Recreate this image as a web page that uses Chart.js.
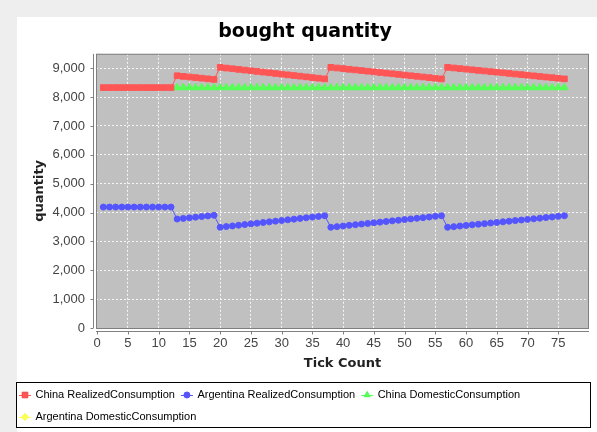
<!DOCTYPE html>
<html>
<head>
<meta charset="utf-8">
<script src="https://cdn.jsdelivr.net/npm/chart.js@4.4.1/dist/chart.umd.min.js"></script>
<style>
    html, body { margin: 0; padding: 0; background: #eeeeee; }
    #wrap { position: relative; width: 597px; height: 432px; }
</style>
</head>
<body>
<div id="wrap"><canvas id="chart" width="597" height="432"></canvas></div>
<script>
// Tick axis values
const tickCount = [
    1, 2, 3, 4, 5, 6, 7, 8, 9, 10, 11, 12, 13, 14, 15, 16, 17, 18, 19, 20,
    21, 22, 23, 24, 25, 26, 27, 28, 29, 30, 31, 32, 33, 34, 35, 36, 37, 38, 39, 40,
    41, 42, 43, 44, 45, 46, 47, 48, 49, 50, 51, 52, 53, 54, 55, 56, 57, 58, 59, 60,
    61, 62, 63, 64, 65, 66, 67, 68, 69, 70, 71, 72, 73, 74, 75, 76
];

const chinaRealized = [
    8330, 8330, 8330, 8330, 8330, 8330, 8330, 8330, 8330, 8330, 8330, 8330,
    8740, 8718, 8697, 8676, 8654, 8632, 8612,
    9030, 9006, 8983, 8959, 8936, 8912, 8889, 8865, 8842, 8818, 8795, 8771, 8748, 8724, 8701, 8677, 8654, 8630,
    9030, 9008, 8986, 8963, 8941, 8919, 8897, 8874, 8852, 8830, 8808, 8786, 8763, 8741, 8719, 8697, 8674, 8652, 8630,
    9030, 9009, 8988, 8967, 8946, 8925, 8904, 8883, 8862, 8841, 8820, 8799, 8778, 8757, 8736, 8715, 8694, 8673, 8652, 8631
];

const argentinaRealized = [
    4190, 4190, 4190, 4190, 4190, 4190, 4190, 4190, 4190, 4190, 4190, 4190,
    3775, 3797, 3818, 3840, 3862, 3884, 3905,
    3490, 3514, 3537, 3561, 3584, 3608, 3631, 3655, 3678, 3702, 3725, 3749, 3772, 3796, 3819, 3843, 3866, 3890,
    3490, 3512, 3534, 3557, 3579, 3601, 3623, 3646, 3668, 3690, 3712, 3734, 3757, 3779, 3801, 3823, 3846, 3868, 3890,
    3490, 3511, 3532, 3553, 3574, 3595, 3616, 3637, 3658, 3679, 3700, 3721, 3742, 3763, 3784, 3805, 3826, 3847, 3868, 3889
];

const chinaDomestic = [
    null, null, null, null, null, null, null, null, null, null, null, null,
    8330, 8330, 8330, 8330, 8330, 8330, 8330,
    8330, 8330, 8330, 8330, 8330, 8330, 8330, 8330, 8330, 8330, 8330, 8330, 8330, 8330, 8330, 8330, 8330, 8330,
    8330, 8330, 8330, 8330, 8330, 8330, 8330, 8330, 8330, 8330, 8330, 8330, 8330, 8330, 8330, 8330, 8330, 8330, 8330,
    8330, 8330, 8330, 8330, 8330, 8330, 8330, 8330, 8330, 8330, 8330, 8330, 8330, 8330, 8330, 8330, 8330, 8330, 8330, 8330
];

// nothing visible for this one in the picture
const argentinaDomestic = [];

const seriesNames = [
    'China RealizedConsumption',
    'Argentina RealizedConsumption',
    'China DomesticConsumption',
    'Argentina DomesticConsumption'
];

const xTicks = [0, 5, 10, 15, 20, 25, 30, 35, 40, 45, 50, 55, 60, 65, 70, 75];
const yTicks = [0, 1000, 2000, 3000, 4000, 5000, 6000, 7000, 8000, 9000];

const colors = ['#ff5555', '#5555ff', '#55ff55', '#ffff55'];
const shapes = ['rect', 'circle', 'triangle', 'rectRot'];
const radii = [4, 3, 4.3, 3.5];

// Build {x, y} points
function toPoints(values) {
    return values.map((v, i) => ({ x: tickCount[i], y: v }));
}

function makeDataset(index, values) {
    return {
        label: seriesNames[index],
        data: toPoints(values),
        borderColor: colors[index],
        backgroundColor: colors[index],
        borderWidth: 1,
        pointStyle: shapes[index],
        pointRadius: radii[index],
        pointBorderWidth: 1,
        pointBackgroundColor: colors[index],
        pointBorderColor: colors[index],
        pointHoverRadius: radii[index],
        spanGaps: false,
        fill: false,
        tension: 0
    };
}

// Background panel, plot background
const backgroundPlugin = {
    id: 'panelBackground',
    beforeDraw(chart) {
        const ctx = chart.ctx;
        const area = chart.chartArea;
        ctx.save();
        ctx.fillStyle = '#eeeeee';
        ctx.fillRect(0, 0, chart.width, chart.height);
        ctx.fillStyle = '#ffffff';
        ctx.fillRect(17, 17, chart.width - 17, chart.height - 17);
        ctx.fillStyle = '#c0c0c0';
        ctx.fillRect(area.left, area.top, area.right - area.left, area.bottom - area.top);
        ctx.restore();
    }
};

// Axis lines, tick marks, plot outline and legend markers
const axesPlugin = {
    id: 'axesAndLegend',
    afterDraw(chart) {
        const ctx = chart.ctx;
        const area = chart.chartArea;
        const xScale = chart.scales.x;
        const yScale = chart.scales.y;
        ctx.save();
        ctx.strokeStyle = '#808080';
        ctx.lineWidth = 1;
        ctx.strokeRect(area.left + 0.5, area.top + 0.5, area.right - area.left - 1, area.bottom - area.top);

        // y axis line + ticks
        const yx = area.left - 2.5;
        ctx.beginPath();
        ctx.moveTo(yx, area.top);
        ctx.lineTo(yx, area.bottom);
        yTicks.forEach(v => {
            const py = Math.round(yScale.getPixelForValue(v)) + 0.5;
            ctx.moveTo(yx, py);
            ctx.lineTo(yx - 3, py);
        });
        // x axis line + ticks
        const xy = area.bottom + 3.5;
        ctx.moveTo(area.left, xy);
        ctx.lineTo(area.right, xy);
        xTicks.forEach(v => {
            const px = Math.round(xScale.getPixelForValue(v)) + 0.5;
            ctx.moveTo(px, xy);
            ctx.lineTo(px, xy + 3);
        });
        ctx.stroke();

        // legend frame and markers
        const legend = chart.legend;
        ctx.strokeStyle = '#000000';
        ctx.strokeRect(16.5, legend.top + 1.5, 574, 45);
        legend.legendHitBoxes.forEach((hb, i) => {
            const cy = hb.top + hb.height / 2;
            const cx = hb.left + 6;
            ctx.strokeStyle = colors[i];
            ctx.lineWidth = 1;
            ctx.beginPath();
            ctx.moveTo(hb.left, Math.round(cy) + 0.5);
            ctx.lineTo(hb.left + 12, Math.round(cy) + 0.5);
            ctx.stroke();
            Chart.helpers.drawPoint(ctx, {
                pointStyle: shapes[i],
                radius: i === 2 ? 3.5 : radii[i],
                borderWidth: 1,
                rotation: 0
            }, cx, cy);
            ctx.fillStyle = colors[i];
            ctx.fill();
        });
        ctx.restore();
    }
};

function gridColor(context) {
    if (context.tick && context.tick.value === 0) return 'rgba(0,0,0,0)';
    return 'rgba(255,255,255,0.85)';
}

Chart.defaults.font.family = '"Liberation Sans", Arial, sans-serif';

const ctx = document.getElementById('chart').getContext('2d');
const chart = new Chart(ctx, {
    type: 'line',
    data: {
        datasets: [
            makeDataset(0, chinaRealized),
            makeDataset(1, argentinaRealized),
            makeDataset(2, chinaDomestic),
            makeDataset(3, argentinaDomestic)
        ]
    },
    options: {
        responsive: false,
        animation: false,
        layout: {
            padding: { left: 13, right: 0, top: 17, bottom: -3 }
        },
        plugins: {
            title: {
                display: true,
                text: 'bought quantity',
                color: '#000000',
                font: { family: '"DejaVu Sans", sans-serif', size: 19, weight: 'bold' },
                padding: { top: 4, bottom: 10 }
            },
            legend: {
                position: 'bottom',
                align: 'start',
                labels: {
                    boxWidth: 11,
                    boxHeight: 16,
                    padding: 6,
                    color: '#333333',
                    font: { size: 11 },
                    generateLabels(chart) {
                        return chart.data.datasets.map((ds, i) => ({
                            text: ds.label,
                            fillStyle: 'rgba(0,0,0,0)',
                            strokeStyle: 'rgba(0,0,0,0)',
                            lineWidth: 0,
                            hidden: false,
                            datasetIndex: i
                        }));
                    }
                }
            },
            tooltip: { enabled: false }
        },
        scales: {
            x: {
                type: 'linear',
                min: -0.2,
                max: 80,
                afterBuildTicks(scale) {
                    scale.ticks = xTicks.map(v => ({ value: v }));
                },
                afterFit(scale) {
                    scale.height = 53;
                },
                ticks: {
                    color: '#444444',
                    font: { size: 13 },
                    padding: 8,
                    maxRotation: 0,
                    autoSkip: false
                },
                grid: {
                    color: gridColor,
                    drawTicks: false
                },
                border: { display: false, dash: [2, 2] },
                title: {
                    display: true,
                    text: 'Tick Count',
                    color: '#222222',
                    font: { family: '"DejaVu Sans", sans-serif', size: 13, weight: 'bold' },
                    padding: { top: 0, bottom: 10 }
                }
            },
            y: {
                type: 'linear',
                min: 0,
                max: 9500,
                afterBuildTicks(scale) {
                    scale.ticks = yTicks.map(v => ({ value: v }));
                },
                afterFit(scale) {
                    scale.width = 83;
                },
                ticks: {
                    color: '#444444',
                    font: { size: 13 },
                    padding: 11
                },
                grid: {
                    color: gridColor,
                    drawTicks: false
                },
                border: { display: false, dash: [2, 2] },
                title: {
                    display: true,
                    text: 'quantity',
                    color: '#222222',
                    font: { family: '"DejaVu Sans", sans-serif', size: 13, weight: 'bold' },
                    padding: { top: 19, bottom: 0 }
                }
            },
            // spacer on the right so the plot ends where it does in the picture
            spacer: {
                type: 'linear',
                position: 'right',
                display: true,
                afterFit(scale) {
                    scale.width = 8;
                },
                ticks: { display: false },
                grid: { display: false, drawTicks: false },
                border: { display: false }
            }
        }
    },
    plugins: [backgroundPlugin, axesPlugin]
});
</script>
</body>
</html>
